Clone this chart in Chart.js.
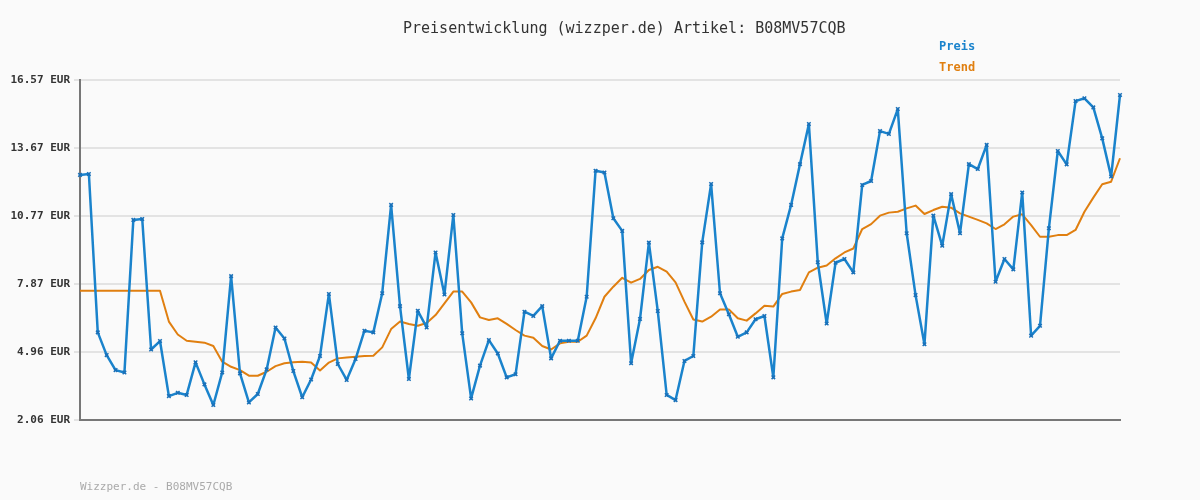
<!DOCTYPE html>
<html><head><meta charset="utf-8">
<script src="https://cdn.jsdelivr.net/npm/chart.js@4/dist/chart.umd.min.js"></script>
<style>
body{margin:0;background:#fafafa;}
#w{position:relative;width:1200px;height:500px;background:#fafafa;font-family:"DejaVu Sans Mono",monospace;}
.t{position:absolute;font-weight:bold;font-size:13px;}
</style></head><body>
<div id="w">
<canvas id="c" width="1200" height="500"></canvas>
<div style="position:absolute;left:403px;top:19px;color:#333;font-size:15px;white-space:nowrap">Preisentwicklung (wizzper.de) Artikel: B08MV57CQB</div>
<div class="t" style="left:939px;top:39px;color:#1a83cc;font-size:12px">Preis</div>
<div class="t" style="left:939px;top:60px;color:#e07f10;font-size:12px">Trend</div>
<div style="position:absolute;left:80px;top:480px;color:#aaa;font-size:11px">Wizzper.de - B08MV57CQB</div>
</div>
<script>
const preis=[12.52,12.56,5.80,4.83,4.19,4.09,10.60,10.64,5.07,5.43,3.08,3.22,3.13,4.52,3.58,2.70,4.09,8.20,4.05,2.81,3.17,4.22,6.01,5.54,4.15,3.03,3.79,4.79,7.44,4.45,3.77,4.66,5.87,5.80,7.47,11.24,6.92,3.81,6.72,6.01,9.21,7.42,10.81,5.76,2.98,4.38,5.47,4.90,3.88,4.01,6.68,6.50,6.92,4.69,5.44,5.44,5.44,7.32,12.70,12.62,10.67,10.13,4.48,6.37,9.63,6.71,3.13,2.91,4.58,4.79,9.64,12.13,7.47,6.57,5.61,5.80,6.36,6.50,3.88,9.81,11.24,12.98,14.69,8.79,6.18,8.77,8.93,8.36,12.09,12.26,14.39,14.27,15.33,10.03,7.39,5.29,10.78,9.50,11.70,10.03,12.98,12.77,13.80,7.96,8.93,8.49,11.77,5.66,6.08,10.24,13.54,12.97,15.67,15.79,15.40,14.08,12.45,15.93];
const trend=[7.58,7.58,7.58,7.58,7.58,7.58,7.58,7.58,7.58,7.58,6.26,5.71,5.44,5.40,5.36,5.22,4.55,4.33,4.19,3.95,3.95,4.12,4.36,4.48,4.52,4.55,4.51,4.17,4.51,4.69,4.73,4.76,4.79,4.80,5.16,5.94,6.26,6.16,6.08,6.20,6.54,7.04,7.54,7.54,7.08,6.44,6.33,6.40,6.16,5.90,5.66,5.57,5.22,5.07,5.33,5.40,5.40,5.66,6.40,7.32,7.75,8.13,7.92,8.08,8.46,8.60,8.39,7.93,7.11,6.35,6.26,6.47,6.78,6.78,6.40,6.30,6.61,6.94,6.90,7.44,7.54,7.61,8.36,8.56,8.65,8.96,9.21,9.38,10.21,10.42,10.78,10.91,10.95,11.09,11.21,10.85,11.02,11.16,11.12,10.88,10.74,10.60,10.45,10.21,10.41,10.74,10.84,10.38,9.88,9.88,9.95,9.95,10.17,10.95,11.55,12.12,12.23,13.23];
const yTicks=[2.06,4.96,7.87,10.77,13.67,16.57];
const labels=preis.map((_,i)=>String(i+1));
new Chart(document.getElementById('c'),{
type:'line',
data:{labels,datasets:[
{data:trend,borderColor:'#e07f10',borderWidth:2,pointRadius:0,tension:0,borderJoinStyle:'round',order:2},
{data:preis,borderColor:'#1a83cc',borderWidth:2.5,borderJoinStyle:'round',pointRadius:2.5,pointStyle:'crossRot',pointBorderColor:'#1a70b8',pointBorderWidth:1.5,tension:0,order:1}
]},
options:{responsive:false,animation:false,devicePixelRatio:1,
layout:{padding:{left:0,right:80,top:80,bottom:80}},
plugins:{legend:{display:false},tooltip:{enabled:false}},
scales:{
x:{offset:false,ticks:{display:false},grid:{display:false,drawTicks:false},border:{color:'#777',width:2},afterFit:s=>{s.height=0;}},
y:{min:2.06,max:16.57,afterBuildTicks:s=>{s.ticks=yTicks.map(v=>({value:v}));},
ticks:{callback:v=>v.toFixed(2)+' EUR',color:'#333',font:{family:'DejaVu Sans Mono',size:11,weight:'bold'},padding:4},
grid:{color:'#e3e3e3',lineWidth:2,drawTicks:true,tickLength:6},border:{color:'#777',width:2},afterFit:s=>{s.width=80;}}
}}
});
</script>
</body></html>
